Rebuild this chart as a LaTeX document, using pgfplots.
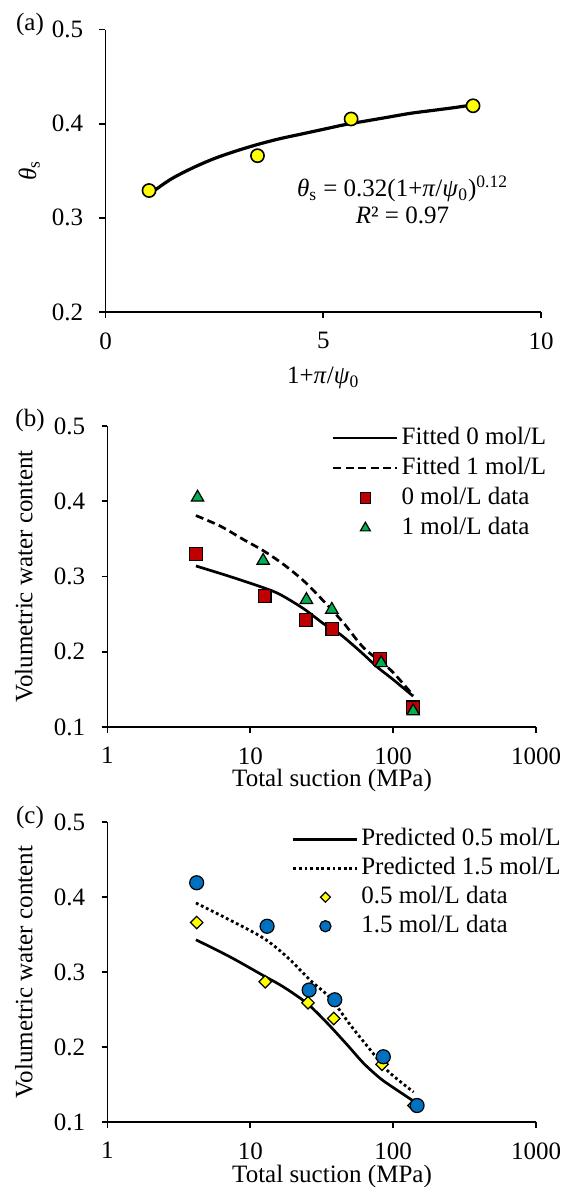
\documentclass[border=0pt]{standalone}
\usepackage{pgfplots}
\pgfplotsset{compat=1.18}
\usepackage{fontspec}
\setmainfont{Liberation Serif}

\definecolor{ptyellow}{HTML}{FFFF00}
\definecolor{ptred}{HTML}{C00000}
\definecolor{ptgreen}{HTML}{00B050}
\definecolor{ptblue}{HTML}{0070C0}

\newcommand{\fs}{\fontsize{12.5}{15}\selectfont}

\pgfplotsset{
  panel/.style={
    scale only axis,
    axis lines*=left,
    axis line style={line width=0.9pt},
    tick align=outside,
    major tick length=3pt,
    every tick/.style={black, line width=0.9pt},
    tick label style={font=\fs, inner sep=0pt},
    label style={font=\fs},
    /pgf/number format/assume math mode=true,
    y tick label style={/pgf/number format/fixed, /pgf/number format/precision=1},
    yticklabel shift=8pt,
    xticklabel shift=7pt,
    clip=false,
    legend cell align=left,
    legend image code/.code={\draw[#1] (0pt,0pt) -- (32pt,0pt);},
  },
  markleg/.style={legend image code/.code={\draw[##1, every mark/.append style={scale=0.8}] plot coordinates {(16pt,0pt)};}},
}

\begin{document}
\begin{tikzpicture}
\useasboundingbox (0,0) rectangle (285.5pt,-595pt);

% (a)
\begin{axis}[panel,
  at={(52.75pt,-14.75pt)}, anchor=north west,
  width=217.75pt, height=141.25pt,
  xmin=0, xmax=10, ymin=0.2, ymax=0.5,
  xtick={0,5,10}, ytick={0.2,0.3,0.4,0.5},
  xlabel={1+\textit{π}/\textit{ψ}\textsubscript{0}},
  ylabel={\textit{θ}\textsubscript{s}},
  xlabel style={at={(axis description cs:0.5,0)}, anchor=center, yshift=-33pt},
  ylabel style={at={(axis description cs:-0.175,0.5)}, anchor=center},
]
\addplot[black, line width=1.6pt, smooth] coordinates {
  (1,0.325) (1.5,0.341) (2,0.353) (2.5,0.363) (3,0.371) (3.5,0.378)
  (4,0.384) (4.5,0.389) (5,0.394) (5.5,0.399) (6,0.403) (6.5,0.407)
  (7,0.411) (7.5,0.414) (8,0.417) (8.44,0.420) };
\addplot[only marks, mark=*, mark size=3.3pt,
  mark options={draw=black, line width=0.8pt, fill=ptyellow}] coordinates {
  (1.0,0.329) (3.49,0.366) (5.64,0.405) (8.44,0.419) };
\node[align=center, font=\fontsize{12.5}{13.5}\selectfont] at (axis cs:6.82,0.319)
  {\textit{θ}\textsubscript{s} = 0.32(1+\textit{π}/\textit{ψ}\textsubscript{0})\textsuperscript{0.12}\\
   \textit{R}² = 0.97};
\end{axis}

% (b)
\begin{axis}[panel,
  at={(53.75pt,-213pt)}, anchor=north west,
  width=214.25pt, height=150.5pt,
  xmode=log, xmin=1, xmax=1000, ymin=0.1, ymax=0.5,
  xtick={1,10,100,1000}, xticklabels={1,10,100,1000}, xminorticks=false,
  ytick={0.1,0.2,0.3,0.4,0.5},
  xlabel={Total suction (MPa)},
  ylabel={Volumetric water content},
  xlabel style={at={(axis description cs:0.524,0)}, anchor=center, yshift=-26.5pt},
  ylabel style={at={(axis description cs:-0.195,0.5)}, anchor=center},
  legend style={at={(axis description cs:0.524,1.01)}, anchor=north west,
    draw=none, fill=none, inner sep=0pt, outer sep=0pt,
    font=\fs, row sep=0pt,
    nodes={inner sep=1.5pt, text height=9pt, text depth=3pt}},
]
\addplot[black, line width=1.35pt, smooth] coordinates {
  (4.16,0.314) (7.2,0.300) (12.4,0.285) (16.2,0.276) (23.7,0.257)
  (32.7,0.237) (42.7,0.223) (60,0.199) (77,0.180) (100,0.163) (138,0.141) };
\addlegendentry{Fitted 0 mol/L}
\addplot[black, line width=1.35pt, dash pattern=on 4pt off 2.2pt, smooth] coordinates {
  (4.16,0.381) (6.16,0.367) (8.98,0.349) (12.4,0.334) (17.1,0.316)
  (23.7,0.294) (32.7,0.267) (45.1,0.238) (62.3,0.205) (95.7,0.176) (138,0.142) };
\addlegendentry{Fitted 1 mol/L}
\addplot[only marks, mark=square*, mark size=3.2pt,
  mark options={draw=black, line width=0.6pt, fill=ptred}, markleg] coordinates {
  (4.18,0.330) (12.6,0.274) (24.4,0.242) (37.6,0.230) (80.6,0.190) (137.8,0.126) };
\addlegendentry{0 mol/L data}
\addplot[only marks, mark=triangle*, mark size=3.6pt,
  mark options={draw=black, line width=0.6pt, fill=ptgreen}, markleg] coordinates {
  (4.27,0.405) (12.3,0.321) (24.7,0.269) (37.2,0.256) (82.4,0.185) (138,0.121) };
\addlegendentry{1 mol/L data}
\end{axis}

% (c)
\begin{axis}[panel,
  at={(53.75pt,-411pt)}, anchor=north west,
  width=214.25pt, height=150pt,
  xmode=log, xmin=1, xmax=1000, ymin=0.1, ymax=0.5,
  xtick={1,10,100,1000}, xticklabels={1,10,100,1000}, xminorticks=false,
  ytick={0.1,0.2,0.3,0.4,0.5},
  xlabel={Total suction (MPa)},
  ylabel={Volumetric water content},
  xlabel style={at={(axis description cs:0.524,0)}, anchor=center, yshift=-27.3pt},
  ylabel style={at={(axis description cs:-0.195,0.5)}, anchor=center},
  legend style={at={(axis description cs:0.4306,0.991)}, anchor=north west,
    draw=none, fill=none, inner sep=0pt, outer sep=0pt,
    font=\fs, row sep=0pt,
    nodes={inner sep=1.25pt, text height=9pt, text depth=3pt}},
]
\addplot[black, line width=1.35pt, smooth] coordinates {
  (4.16,0.343) (7.24,0.320) (12.4,0.295) (17.1,0.280) (25.0,0.258)
  (34.5,0.232) (47.6,0.203) (62.3,0.178) (81.4,0.158) (100,0.146) (136,0.129) };
\addlegendentry{Predicted 0.5 mol/L}
\addplot[black, line width=1.4pt, dash pattern=on 1.4pt off 1.4pt, smooth] coordinates {
  (4.16,0.392) (7.24,0.369) (12.4,0.345) (18.1,0.320) (26.3,0.289)
  (36.4,0.265) (50.3,0.229) (69.3,0.196) (93,0.167) (139,0.140) };
\addlegendentry{Predicted 1.5 mol/L}
\addplot[only marks, mark=square*, mark size=2.2pt,
  mark options={rotate=45, draw=black, line width=0.6pt, fill=ptyellow}, markleg] coordinates {
  (4.21,0.366) (12.7,0.287) (25.3,0.259) (38.4,0.238) (83.6,0.177) (140,0.122) };
\addlegendentry{0.5 mol/L data}
\addplot[only marks, mark=*, mark size=3.5pt,
  mark options={draw=black, line width=0.6pt, fill=ptblue}, markleg] coordinates {
  (4.21,0.419) (13.1,0.361) (25.8,0.276) (39.0,0.263) (85.3,0.187) (147,0.122) };
\addlegendentry{1.5 mol/L data}
\end{axis}

\node[font=\fs] at (15pt,-12pt) {(a)};
\node[font=\fs] at (15pt,-210pt) {(b)};
\node[font=\fs] at (15pt,-408.5pt) {(c)};
\end{tikzpicture}
\end{document}
